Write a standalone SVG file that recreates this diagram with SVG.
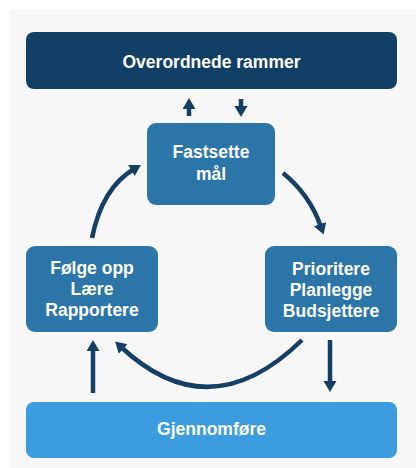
<svg xmlns="http://www.w3.org/2000/svg" width="416" height="468" viewBox="0 0 416 468">
<defs>
<style>
.lbl{font-family:"Liberation Sans",Arial,sans-serif;font-weight:bold;font-size:17.5px;fill:#ffffff;text-anchor:middle}
.dark{fill:#123f66}
.mid{fill:#2b75a8}
.light{fill:#3b9de0}
.con{fill:none;stroke:#153f64;stroke-width:4.5}
</style>
<marker id="ah" markerUnits="userSpaceOnUse" markerWidth="14" markerHeight="14" refX="3" refY="6.5" orient="auto">
<path d="M0,0 L11,6.5 L0,13 z" fill="#153f64"/>
</marker>
</defs>
<rect x="0" y="0" width="416" height="468" fill="#ffffff"/>
<rect x="9" y="9" width="407" height="459" fill="#f7f7f7"/>

<g id="node-overordnede">
<rect class="dark" x="26" y="32" width="371" height="57" rx="8"/>
<text class="lbl" x="211.5" y="68">Overordnede rammer</text>
</g>
<g id="node-fastsette">
<rect class="mid" x="147" y="123" width="128" height="82" rx="9"/>
<text class="lbl" x="211" y="158">Fastsette</text>
<text class="lbl" x="211" y="180">mål</text>
</g>
<g id="node-folge">
<rect class="mid" x="26" y="246" width="132" height="86" rx="9"/>
<text class="lbl" x="92" y="274">Følge opp</text>
<text class="lbl" x="92" y="295">Lære</text>
<text class="lbl" x="92" y="316">Rapportere</text>
</g>
<g id="node-prioritere">
<rect class="mid" x="265" y="246" width="132" height="86" rx="9"/>
<text class="lbl" x="331" y="275">Prioritere</text>
<text class="lbl" x="331" y="296">Planlegge</text>
<text class="lbl" x="331" y="317">Budsjettere</text>
</g>
<g id="node-gjennomfore">
<rect class="light" x="26" y="402" width="371" height="56" rx="8"/>
<text class="lbl" x="211.5" y="435">Gjennomføre</text>
</g>

<g id="connectors">
<path class="con" d="M189,116 L189,106" marker-end="url(#ah)"/>
<path class="con" d="M241,99 L241,109" marker-end="url(#ah)"/>
<path class="con" d="M92,238 Q102,188 134,169" marker-end="url(#ah)"/>
<path class="con" d="M283,173 Q310,195 321,227" marker-end="url(#ah)"/>
<path class="con" d="M302,340 Q210,430 121,347" marker-end="url(#ah)"/>
<path class="con" d="M330,340 L330,384" marker-end="url(#ah)"/>
<path class="con" d="M93,393 L93,348" marker-end="url(#ah)"/>
</g>
</svg>
